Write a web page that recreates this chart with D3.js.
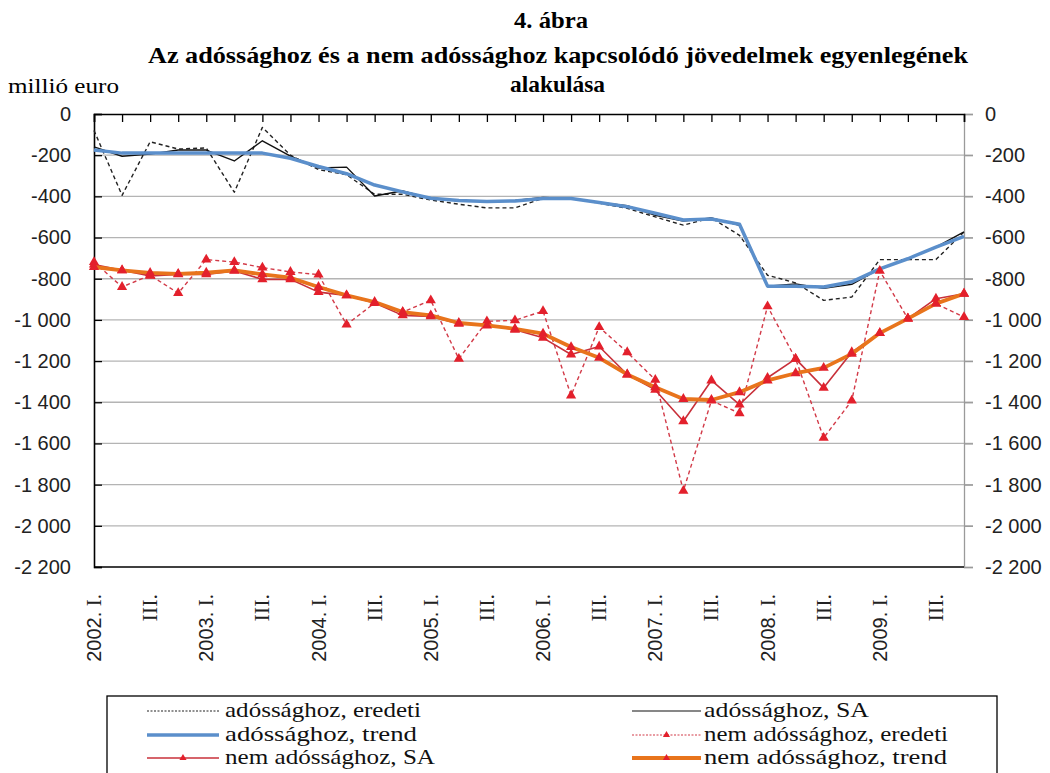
<!DOCTYPE html>
<html><head><meta charset="utf-8">
<script src="https://cdn.jsdelivr.net/npm/d3@7"></script>
<style>body{margin:0;background:#fff}svg{display:block}</style>
</head><body><svg id="c" width="1050" height="773"></svg>
<script>
const years = ["2002","2003","2004","2005","2006","2007","2008","2009"];
const quarters = ["I.","II.","III.","IV."];
const categories = [];
years.forEach(y => quarters.forEach(q => categories.push(y + ". " + q)));

const debtOrig  = [-80,-395,-135,-170,-165,-380,-65,-200,-270,-295,-390,-390,-418,-438,-456,-456,-409,-409,-433,-458,-500,-540,-505,-589,-783,-820,-905,-889,-707,-707,-707,-573];
const debtSA    = [-160,-205,-195,-175,-175,-228,-130,-205,-262,-258,-398,-373,-410,-420,-425,-420,-405,-410,-430,-445,-492,-520,-505,-541,-836,-825,-847,-827,-751,-703,-646,-573];
const debtTrend = [-175,-190,-190,-190,-190,-190,-190,-215,-255,-290,-345,-378,-409,-420,-425,-422,-410,-410,-430,-450,-482,-515,-510,-535,-836,-836,-840,-815,-752,-703,-646,-594];
const nonOrig   = [-719,-840,-783,-870,-707,-719,-746,-767,-780,-1023,-918,-962,-905,-1189,-1007,-1002,-957,-1367,-1035,-1157,-1291,-1830,-1392,-1453,-934,-1189,-1573,-1392,-762,-994,-921,-986];
const nonSA     = [-731,-759,-786,-779,-779,-762,-803,-803,-865,-881,-918,-978,-983,-1019,-1022,-1048,-1087,-1168,-1129,-1265,-1340,-1492,-1294,-1411,-1281,-1189,-1330,-1157,-1064,-994,-897,-873];
const nonTrend  = [-743,-759,-772,-776,-771,-759,-779,-795,-840,-881,-913,-962,-978,-1015,-1027,-1043,-1067,-1132,-1184,-1265,-1327,-1384,-1389,-1351,-1294,-1259,-1233,-1165,-1064,-994,-921,-873];

const yTicks = [0,-200,-400,-600,-800,-1000,-1200,-1400,-1600,-1800,-2000,-2200];
const yTickLabels = ["0","-200","-400","-600","-800","-1 000","-1 200","-1 400","-1 600","-1 800","-2 000","-2 200"];

const titleLines = ["4. ábra","Az adóssághoz  és a nem adóssághoz kapcsolódó jövedelmek egyenlegének","alakulása"];
const unitLabel = "millió euro";
const legendLabels = ["adóssághoz, eredeti","adóssághoz,  SA","adóssághoz,  trend","nem adóssághoz, eredeti","nem adóssághoz, SA","nem adóssághoz,  trend"];

const svg = d3.select("#c");
const L = 94, R = 964, T = 114, B = 567;
const x = d3.scalePoint().domain(d3.range(categories.length)).range([L, R]);
const y = d3.scaleLinear().domain([-2200, 0]).range([B, T]);

const serif = "'Liberation Serif','DejaVu Serif',serif";
const sans = "'Liberation Sans',Arial,sans-serif";

// title
const tl = [{t:titleLines[0], x:514, y:28, w:74},{t:titleLines[1], x:148, y:63, w:820},{t:titleLines[2], x:510, y:92, w:95}];
tl.forEach(d => svg.append("text").attr("x", d.x).attr("y", d.y).attr("font-family", serif)
  .attr("font-weight", "bold").attr("font-size", 24).attr("textLength", d.w).attr("lengthAdjust","spacingAndGlyphs").text(d.t));
svg.append("text").attr("x", 8).attr("y", 93).attr("font-family", serif).attr("font-size", 21)
  .attr("textLength", 111).attr("lengthAdjust","spacingAndGlyphs").text(unitLabel);

// gridlines
svg.append("g").selectAll("line").data(yTicks.filter(v => v !== 0 && v !== -2200)).join("line")
  .attr("x1", L).attr("x2", R + 9).attr("y1", d => y(d)).attr("y2", d => y(d))
  .attr("stroke", "#b4b4b4").attr("stroke-width", 1.3);

// right axis (gray)
const rAxis = svg.append("g").attr("transform", `translate(${R},0)`)
  .call(d3.axisRight(y).tickValues(yTicks).tickSize(9).tickFormat((d,i) => yTickLabels[i]));
rAxis.select(".domain").attr("stroke", "#9a9a9a").attr("stroke-width", 1.3);
rAxis.selectAll(".tick line").attr("stroke", "#9a9a9a").attr("stroke-width", 1.3);
rAxis.selectAll(".tick text").attr("x", 21).attr("font-family", sans).attr("font-size", 20).attr("fill", "#222");

// left axis
const lAxis = svg.append("g").attr("transform", `translate(${L},0)`)
  .call(d3.axisLeft(y).tickValues(yTicks).tickSize(-8).tickFormat((d,i) => yTickLabels[i]));
lAxis.select(".domain").attr("stroke", "#000").attr("stroke-width", 1.6);
lAxis.selectAll(".tick line").attr("stroke", "#000").attr("stroke-width", 1.3);
lAxis.selectAll(".tick text").attr("x", -23).attr("font-family", sans).attr("font-size", 20).attr("fill", "#222");

// bottom border
svg.append("line").attr("x1", L).attr("x2", R).attr("y1", y(-2200)).attr("y2", y(-2200)).attr("stroke", "#000").attr("stroke-width", 1.6);

// top category axis (ticks pointing down), labels at bottom
const tAxis = svg.append("g").attr("transform", `translate(0,${T})`)
  .call(d3.axisBottom(x).tickSize(8).tickFormat(""));
tAxis.select(".domain").attr("stroke", "#000").attr("stroke-width", 1.6);
tAxis.selectAll(".tick line").attr("stroke", "#000").attr("stroke-width", 1.3);

const labG = svg.append("g");
categories.forEach((c, i) => {
  if (i % 2 !== 0) return;
  const q = c.split(" ")[1];
  const yr = c.split(".")[0];
  const t = labG.append("text").attr("transform", `translate(${x(i)+7},594) rotate(-90)`)
    .attr("text-anchor", "end").attr("font-size", 20).attr("fill", "#222");
  if (q === "I.") {
    t.append("tspan").attr("font-family", sans).text(yr + ". ");
    t.append("tspan").attr("font-family", serif).attr("font-size", 21).text(q);
  } else {
    t.append("tspan").attr("font-family", serif).attr("font-size", 22).text(q);
  }
});

// series
const idx = d3.range(categories.length);
const line = d3.line().x(i => x(i));
const tri = d3.symbol().type(d3.symbolTriangle);

const series = [
  {data: debtOrig,  color: "#222", width: 1.4, dash: "4,3", marker: false},
  {data: debtSA,    color: "#111", width: 1.4, dash: null, marker: false},
  {data: debtTrend, color: "#5b8fcb", width: 3.5, dash: null, marker: false},
  {data: nonOrig,   color: "#d23a48", width: 1.4, dash: "4,3", marker: true},
  {data: nonSA,     color: "#c8303a", width: 1.6, dash: null, marker: true},
  {data: nonTrend,  color: "#e8741c", width: 3.8, dash: null, marker: true}
];

series.forEach(s => {
  svg.append("path").datum(idx)
    .attr("d", line.y(i => y(s.data[i])))
    .attr("fill", "none").attr("stroke", s.color).attr("stroke-width", s.width)
    .attr("stroke-dasharray", s.dash).attr("stroke-linejoin", "round");
  if (s.marker) {
    svg.append("g").selectAll("path").data(idx).join("path")
      .attr("d", tri.size(45))
      .attr("transform", i => `translate(${x(i)},${y(s.data[i])})`)
      .attr("fill", "#e3202c");
  }
});

// legend
svg.append("rect").attr("x", 107).attr("y", 696).attr("width", 890).attr("height", 120)
  .attr("fill", "none").attr("stroke", "#000").attr("stroke-width", 1.3);
const leg = [
  {s:0, lx1:147, lx2:219, tx:225, ty:711, w:196},
  {s:1, lx1:632, lx2:701, tx:704, ty:711, w:165},
  {s:2, lx1:147, lx2:219, tx:225, ty:735, w:192},
  {s:3, lx1:632, lx2:701, tx:704, ty:735, w:244},
  {s:4, lx1:147, lx2:219, tx:225, ty:758, w:210},
  {s:5, lx1:632, lx2:701, tx:704, ty:758, w:243}
];
leg.forEach((d, k) => {
  const s = series[d.s];
  svg.append("line").attr("x1", d.lx1).attr("x2", d.lx2).attr("y1", d.ty).attr("y2", d.ty)
    .attr("stroke", s.color).attr("stroke-width", s.width === 1.4 ? 1.2 : s.width)
    .attr("stroke-dasharray", s.dash ? "2,1.5" : null);
  if (s.marker) {
    svg.append("path").attr("d", tri.size(22)).attr("transform", `translate(${(d.lx1+d.lx2)/2},${d.ty})`).attr("fill", "#e3202c");
  }
  svg.append("text").attr("x", d.tx).attr("y", d.ty + 6).attr("font-family", serif).attr("font-size", 22)
    .attr("fill", "#111").attr("textLength", d.w).attr("lengthAdjust", "spacingAndGlyphs").text(legendLabels[k]);
});
</script></body></html>
